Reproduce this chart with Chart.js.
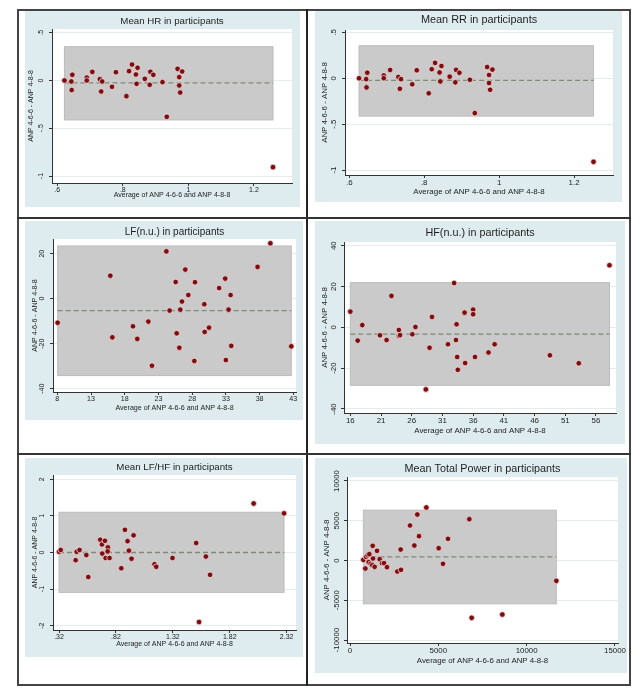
<!DOCTYPE html>
<html lang="en">
<head>
<meta charset="UTF-8">
<title>Bland-Altman plots, ANP 4-6-6 vs ANP 4-8-8</title>
<script src="https://cdn.jsdelivr.net/npm/chart.js@4"></script>
<style>
  body { margin: 0; background: #fff; }
  #page { position: relative; width: 640px; height: 700px; }
  .frame { position: absolute; left: 17px; top: 9px; width: 614px; height: 677px; border: 2px solid #444; box-sizing: border-box; }
  .vline { position: absolute; left: 306px; top: 9px; width: 2px; height: 677px; background: #222; }
  .hline { position: absolute; left: 17px; width: 614px; height: 2px; background: #333; }
  .panel { position: absolute; background: #deecef; }
  .panel canvas { display: block; }
</style>
</head>
<body>
<div id="page">
  <div class="frame"></div>
  <div class="vline"></div>
  <div class="hline" style="top:217px"></div>
  <div class="hline" style="top:453px"></div>
  <div class="panel" style="left:25px;top:11px"><canvas id="hr" width="275" height="196"></canvas></div>
  <div class="panel" style="left:315px;top:11px"><canvas id="rr" width="307" height="191"></canvas></div>
  <div class="panel" style="left:25px;top:221px"><canvas id="lf" width="278" height="199"></canvas></div>
  <div class="panel" style="left:315px;top:221px"><canvas id="hf" width="310" height="223"></canvas></div>
  <div class="panel" style="left:25px;top:458px"><canvas id="lfhf" width="278" height="199"></canvas></div>
  <div class="panel" style="left:315px;top:458px"><canvas id="tp" width="312" height="215"></canvas></div>
</div>
<script>
// x = average of the two methods, y = difference (ANP 4-6-6 - ANP 4-8-8)
const hrAvg = [0.622, 0.643, 0.646, 0.644, 0.690, 0.690, 0.707, 0.730, 0.737, 0.734, 0.767, 0.779, 0.811, 0.819, 0.828,
               0.840, 0.845, 0.842, 0.867, 0.884, 0.893, 0.882, 0.921, 0.934, 0.967, 0.981, 0.972, 0.972, 0.975, 1.258];
const hrDiff = [0.000, -0.010, 0.060, -0.100, 0.030, 0.000, 0.090, 0.014, -0.010, -0.115, -0.066, 0.087, -0.164, 0.098, 0.167,
                0.063, 0.133, -0.035, 0.017, 0.091, 0.059, -0.045, -0.017, -0.380, 0.122, 0.094, 0.035, -0.052, -0.126, -0.907];
const hrLimits = [-0.413, -0.024, 0.354]; // lower, mean, upper
const hrXTicks = [0.6, 0.8, 1, 1.2];
const hrYTicks = [0.5, 0, -0.5, -1];

const rrAvg = [0.626, 0.645, 0.648, 0.646, 0.692, 0.692, 0.709, 0.731, 0.738, 0.735, 0.768, 0.780, 0.812, 0.820, 0.829,
               0.841, 0.846, 0.843, 0.868, 0.885, 0.894, 0.883, 0.922, 0.935, 0.968, 0.982, 0.973, 0.973, 0.976, 1.252];
const rrDiff = [0.000, -0.010, 0.060, -0.100, 0.030, 0.000, 0.090, 0.014, -0.010, -0.115, -0.066, 0.087, -0.164, 0.098, 0.167,
                0.063, 0.133, -0.035, 0.017, 0.091, 0.059, -0.045, -0.017, -0.380, 0.122, 0.094, 0.035, -0.052, -0.126, -0.910];
const rrLimits = [-0.413, -0.024, 0.354];
const rrXTicks = [0.6, 0.8, 1, 1.2];
const rrYTicks = [0.5, 0, -0.5, -1];

const lfAvg = [8.05, 15.86, 16.16, 19.22, 19.86, 21.5, 22.04, 24.17, 24.66, 25.55, 25.7, 26.1, 26.24, 26.49, 26.98,
               27.43, 28.42, 28.32, 29.8, 29.85, 30.5, 32.0, 32.9, 33.4, 33.7, 33.0, 33.8, 37.7, 39.6, 42.7];
const lfDiff = [-10.7, 10.2, -17.2, -12.3, -17.9, -10.2, -29.8, 21.0, -5.3, 7.4, -15.4, -21.8, -4.9, -1.3, 12.9,
                1.6, 7.3, -27.7, -2.5, -14.8, -12.9, 4.7, 8.9, -4.9, 1.6, -27.3, -21.0, 14.1, 24.6, -21.2];
const lfLimits = [-34.2, -5.3, 23.4];
const lfXTicks = [8, 13, 18, 23, 28, 33, 38, 43];
const lfYTicks = [20, 0, -20, -40];

const hfAvg = [16.0, 17.2, 17.95, 20.83, 21.9, 22.7, 23.9, 23.9, 24.1, 26.1, 26.6, 28.3, 28.9, 29.3, 31.9,
               32.9, 33.2, 33.3, 33.4, 33.5, 34.6, 34.7, 36.0, 36.0, 36.3, 38.5, 39.5, 48.5, 53.2, 58.2];
const hfDiff = [7.7, -6.5, 1.1, -3.9, -6.2, 15.4, -1.3, -4.2, -3.8, -3.4, 0.2, -30.4, -10.0, 5.1, -8.3,
                21.7, -6.2, 1.5, -14.5, -20.8, 7.2, -17.5, 8.7, 6.4, -14.5, -12.3, -8.3, -13.7, -17.6, 30.4];
const hfLimits = [-28.4, -3.3, 21.9];
const hfXTicks = [16, 21, 26, 31, 36, 41, 46, 51, 56];
const hfYTicks = [40, 20, 0, -20, -40];

const lfhfAvg = [0.32, 0.335, 0.466, 0.475, 0.50, 0.56, 0.577, 0.682, 0.697, 0.70, 0.723, 0.729, 0.749, 0.747, 0.764,
                 0.867, 0.899, 0.922, 0.934, 0.957, 0.975, 1.159, 1.174, 1.317, 1.525, 1.55, 1.61, 1.647, 2.03, 2.297];
const lfhfDiff = [0.02, 0.07, -0.21, 0.02, 0.07, -0.07, -0.67, 0.35, 0.22, -0.03, 0.32, -0.15, 0.14, 0.03, -0.15,
                  -0.43, 0.62, 0.31, 0.05, -0.17, 0.47, -0.32, -0.39, -0.15, 0.26, -1.90, -0.11, -0.61, 1.34, 1.07];
const lfhfLimits = [-1.09, 0.0, 1.10];
const lfhfXTicks = [0.32, 0.82, 1.32, 1.82, 2.32];
const lfhfYTicks = [2, 1, 0, -1, -2];

const tpAvg = [755, 868, 906, 1000, 1094, 1057, 1170, 1283, 1302, 1264, 1396, 1528, 1679, 1811, 1925, 2094,
               2679, 2887, 2868, 3396, 3642, 3811, 3906, 4321, 5019, 5264, 5547, 6755, 6887, 8623, 11679];
const tpDiff = [80, -1006, 461, 670, 797, -210, -419, 1845, 252, -587, -797, 1216, 168, -335, -335, -838,
                -1384, -1174, 1384, 4403, 1887, 5786, 3061, 6667, 1551, -419, 2725, 5199, -7212, -6792, -2558];
const tpLimits = [-5451, 461, 6331];
const tpXTicks = [0, 5000, 10000, 15000];
const tpYTicks = [10000, 5000, 0, -5000, -10000];

const FAMILY = "'Liberation Sans', Arial, Helvetica, sans-serif";
const xTitle = 'Average of ANP 4-6-6 and ANP 4-8-8';
const yTitle = 'ANP 4-6-6 - ANP 4-8-8';

// Stata style labels: .5, -.5, 1.32
const fmt = v => String(v).replace(/^(-?)0\./, '$1.');

// white plot region, grey limits band and dashed mean line
const baPlugin = {
  id: 'baBand',
  beforeDraw(chart) {
    const { ctx, chartArea: a } = chart;
    ctx.save();
    ctx.fillStyle = '#ffffff';
    ctx.fillRect(a.left, a.top, a.right - a.left, a.bottom - a.top);
    ctx.restore();
  },
  beforeDatasetsDraw(chart, args, opts) {
    const { ctx, scales: { x, y } } = chart;
    const x0 = x.getPixelForValue(Math.min(...opts.avg));
    const x1 = x.getPixelForValue(Math.max(...opts.avg));
    const yLo = y.getPixelForValue(opts.limits[0]);
    const yMid = y.getPixelForValue(opts.limits[1]);
    const yHi = y.getPixelForValue(opts.limits[2]);
    ctx.save();
    ctx.fillStyle = '#cacaca';
    ctx.fillRect(x0, yHi, x1 - x0, yLo - yHi);
    ctx.strokeStyle = '#bcbcbc';
    ctx.lineWidth = 1;
    ctx.strokeRect(x0, yHi, x1 - x0, yLo - yHi);
    ctx.setLineDash([5, 3]);
    ctx.strokeStyle = '#7f8b74';
    ctx.lineWidth = 1.3;
    ctx.beginPath();
    ctx.moveTo(x0, yMid);
    ctx.lineTo(x1, yMid);
    ctx.stroke();
    ctx.restore();
  }
};

function labelWidth(ticks, size) {
  const c = document.createElement('canvas').getContext('2d');
  c.font = size + 'px ' + FAMILY;
  return Math.max(...ticks.map(v => c.measureText(fmt(v)).width));
}

function blandAltman(id, p) {
  const tick = { family: FAMILY, size: p.font };
  const axisTitle = { family: FAMILY, size: p.font, lineHeight: 1 };
  const tt = p.titleY - p.titleSize / 2;
  const yPad = p.yGap - 3 - labelWidth(p.yTicks, p.font) / 2;

  new Chart(document.getElementById(id), {
    type: 'scatter',
    data: {
      datasets: [{
        data: p.avg.map((v, i) => ({ x: v, y: p.diff[i] })),
        backgroundColor: '#7c0e12',
        borderColor: 'rgba(255, 228, 228, 0.9)',
        borderWidth: 0.8,
        pointRadius: 2.8
      }]
    },
    options: {
      responsive: false,
      animation: false,
      events: [],
      layout: { padding: { left: 0, top: 0, bottom: 0, right: p.right } },
      plugins: {
        legend: { display: false },
        tooltip: { enabled: false },
        title: {
          display: true,
          fullSize: false, // centre over the plot region, as Stata does
          text: p.title,
          color: '#1e1e1e',
          font: { family: FAMILY, size: p.titleSize, weight: 'normal', lineHeight: 1 },
          padding: { top: tt, bottom: p.top - p.titleSize - tt }
        },
        baBand: { avg: p.avg, limits: p.limits }
      },
      scales: {
        x: {
          type: 'linear',
          min: p.xMin, max: p.xMax,
          afterBuildTicks: s => { s.ticks = p.xTicks.map(v => ({ value: v })); },
          afterFit: s => { s.height = p.bottom; s.paddingLeft = 0; s.paddingRight = 0; },
          ticks: { callback: fmt, font: tick, color: '#222', padding: 0, maxRotation: 0, autoSkip: false },
          grid: { drawOnChartArea: false, drawTicks: true, tickLength: 3, tickColor: '#333' },
          border: { color: '#333', width: 1 },
          title: { display: true, text: xTitle, color: '#222', font: axisTitle,
                   padding: { top: 0, bottom: p.xTitleY - p.font / 2 } }
        },
        y: {
          type: 'linear',
          min: p.yMin, max: p.yMax,
          afterBuildTicks: s => { s.ticks = p.yTicks.map(v => ({ value: v })); },
          afterFit: s => { s.width = p.left; s.paddingTop = 0; s.paddingBottom = 0; },
          ticks: { callback: fmt, font: tick, color: '#222', padding: yPad, minRotation: 90, maxRotation: 90,
                   crossAlign: 'center', autoSkip: false },
          grid: { color: '#e4ecef', lineWidth: 1, drawTicks: true, tickLength: 3, tickColor: '#333' },
          border: { color: '#333', width: 1 },
          title: { display: true, text: yTitle, color: '#222', font: axisTitle,
                   padding: { top: p.yTitleX - p.font / 2, bottom: 0 } }
        }
      }
    },
    plugins: [baPlugin]
  });
}

blandAltman('hr', {
  title: 'Mean HR in participants', avg: hrAvg, diff: hrDiff, limits: hrLimits, xTicks: hrXTicks, yTicks: hrYTicks,
  xMin: 0.584, xMax: 1.316, yMin: -1.073, yMax: 0.539,
  left: 27, top: 18, right: 8, bottom: 24, titleY: 10, titleSize: 9.7, font: 7,
  yTitleX: 6, yGap: 10.5, xTitleY: 11.5
});
blandAltman('rr', {
  title: 'Mean RR in participants', avg: rrAvg, diff: rrDiff, limits: rrLimits, xTicks: rrXTicks, yTicks: rrYTicks,
  xMin: 0.5885, xMax: 1.304, yMin: -1.054, yMax: 0.525,
  left: 30, top: 19, right: 9, bottom: 27, titleY: 9, titleSize: 10.9, font: 7.9,
  yTitleX: 10, yGap: 11.5, xTitleY: 10.3
});
blandAltman('lf', {
  title: 'LF(n.u.) in participants', avg: lfAvg, diff: lfDiff, limits: lfLimits, xTicks: lfXTicks, yTicks: lfYTicks,
  xMin: 7.36, xMax: 43.4, yMin: -41.5, yMax: 26.5,
  left: 28, top: 18, right: 7, bottom: 28, titleY: 11, titleSize: 10, font: 7.1,
  yTitleX: 10, yGap: 11.3, xTitleY: 12.3
});
blandAltman('hf', {
  title: 'HF(n.u.) in participants', avg: hfAvg, diff: hfDiff, limits: hfLimits, xTicks: hfXTicks, yTicks: hfYTicks,
  xMin: 14.97, xMax: 59.26, yMin: -41.96, yMax: 41.8,
  left: 29, top: 21, right: 9, bottom: 31, titleY: 12, titleSize: 10.8, font: 7.9,
  yTitleX: 10, yGap: 10, xTitleY: 13.3
});
blandAltman('lfhf', {
  title: 'Mean LF/HF in participants', avg: lfhfAvg, diff: lfhfDiff, limits: lfhfLimits, xTicks: lfhfXTicks, yTicks: lfhfYTicks,
  xMin: 0.267, xMax: 2.402, yMin: -2.118, yMax: 2.118,
  left: 28, top: 17, right: 7, bottom: 27, titleY: 9, titleSize: 9.7, font: 7,
  yTitleX: 10, yGap: 11, xTitleY: 12.7
});
blandAltman('tp', {
  title: 'Mean Total Power in participants', avg: tpAvg, diff: tpDiff, limits: tpLimits, xTicks: tpXTicks, yTicks: tpYTicks,
  xMin: -170, xMax: 15170, yMin: -10377, yMax: 10503,
  left: 32, top: 19, right: 9, bottom: 30, titleY: 11, titleSize: 10.8, font: 7.9,
  yTitleX: 12, yGap: 10, xTitleY: 12.3
});
</script>
</body>
</html>
